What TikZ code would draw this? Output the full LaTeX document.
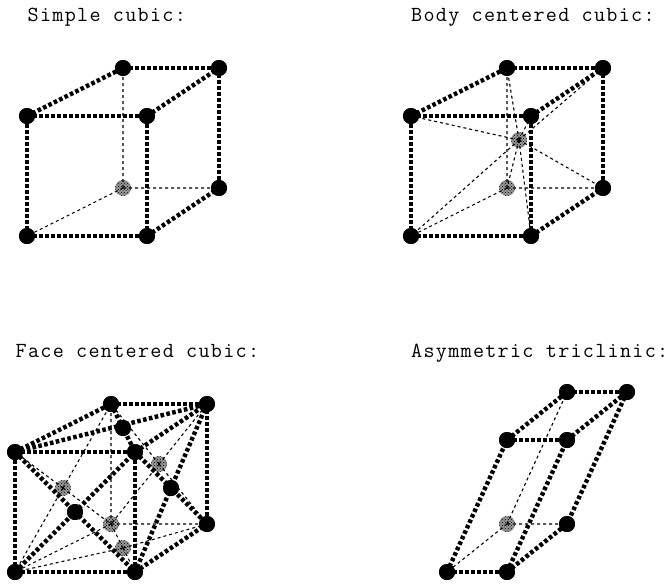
\documentclass[tikz,border=0pt]{standalone}
\usepackage{fontspec}
\setmonofont[LetterSpace=6]{Latin Modern Mono}
\usetikzlibrary{patterns}
\tikzset{
  atom/.style={circle,fill=black,draw=none,minimum size=16pt,inner sep=0pt},
  hidden/.style={circle,draw=none,minimum size=16pt,inner sep=0pt,preaction={fill=gray!80},pattern=crosshatch dots,pattern color=black},
  edgeline/.style={line width=4.4pt,dash pattern=on 3.6pt off 2.4pt},
  backline/.style={line width=1.1pt,dash pattern=on 3pt off 3pt},
  title/.style={anchor=base west,inner sep=0pt,font=\ttfamily\fontsize{21.5}{21.5}\selectfont}
}
\begin{document}
\begin{tikzpicture}[x=1pt,y=-1pt]
\useasboundingbox (0,0) rectangle (672,584);
\node[title] (t1) at (27.5,21.5) {Simple cubic:};
\node[title] (t2) at (411,21.5) {Body centered cubic:};
\node[title] (t3) at (15.5,357.5) {Face centered cubic:};
\node[title] (t4) at (411,357.5) {Asymmetric triclinic:};

% Simple cubic
\node[hidden] (sG) at (123,188) {};
\foreach \n/\x/\y in {sA/27/236,sB/147/236,sC/27/116,sD/147/116,sE/123/68,sF/219/68,sH/219/188}
  \node[atom] (\n) at (\x,\y) {};
\draw[backline] (sG.center)--(sA.center) (sG.center)--(sH.center) (sG.center)--(sE.center);
\draw[edgeline] (sA.center)--(sB.center);
\draw[edgeline] (sA.center)--(sC.center);
\draw[edgeline] (sB.center)--(sD.center);
\draw[edgeline] (sC.center)--(sD.center);
\draw[edgeline] (sC.center)--(sE.center);
\draw[edgeline] (sD.center)--(sF.center);
\draw[edgeline] (sE.center)--(sF.center);
\draw[edgeline] (sF.center)--(sH.center);
\draw[edgeline] (sB.center)--(sH.center);
\foreach \x/\y in {27/236,147/236,27/116,147/116,123/68,219/68,219/188}
  \node[atom] at (\x,\y) {};

% Body centered
\node[hidden] (bG) at (507,188) {};
\node[hidden] (bM) at (519,140) {};
\foreach \n/\x/\y in {bA/411/236,bB/531/236,bC/411/116,bD/531/116,bE/507/68,bF/603/68,bH/603/188}
  \node[atom] (\n) at (\x,\y) {};
\draw[backline] (bG.center)--(bA.center) (bG.center)--(bH.center) (bG.center)--(bE.center);
\foreach \n in {bA,bB,bC,bD,bE,bF,bH,bG}
  \draw[backline] (bM.center)--(\n.center);
\draw[edgeline] (bA.center)--(bB.center);
\draw[edgeline] (bA.center)--(bC.center);
\draw[edgeline] (bB.center)--(bD.center);
\draw[edgeline] (bC.center)--(bD.center);
\draw[edgeline] (bC.center)--(bE.center);
\draw[edgeline] (bD.center)--(bF.center);
\draw[edgeline] (bE.center)--(bF.center);
\draw[edgeline] (bF.center)--(bH.center);
\draw[edgeline] (bB.center)--(bH.center);
\foreach \x/\y in {411/236,531/236,411/116,531/116,507/68,603/68,603/188}
  \node[atom] at (\x,\y) {};

% Face centered
\foreach \n/\x/\y in {fG/111/524,fL/63/488,fU/123/548,fK/159/464}
  \node[hidden] (\n) at (\x,\y) {};
\foreach \n/\x/\y in {fA/15/572,fB/135/572,fC/15/452,fD/135/452,fE/111/404,fF/207/404,fH/207/524,fT/123/428,fR/171/488,fN/75/512}
  \node[atom] (\n) at (\x,\y) {};
\draw[backline] (fG.center)--(fA.center) (fG.center)--(fH.center) (fG.center)--(fE.center);
\draw[backline] (fL.center)--(fE.center) (fL.center)--(fA.center) (fL.center)--(fC.center) (fL.center)--(fG.center);
\draw[backline] (fU.center)--(fA.center) (fU.center)--(fB.center) (fU.center)--(fG.center) (fU.center)--(fH.center);
\draw[backline] (fK.center)--(fE.center) (fK.center)--(fF.center) (fK.center)--(fG.center) (fK.center)--(fH.center);
\draw[edgeline] (fA.center)--(fB.center);
\draw[edgeline] (fA.center)--(fC.center);
\draw[edgeline] (fB.center)--(fD.center);
\draw[edgeline] (fC.center)--(fD.center);
\draw[edgeline] (fC.center)--(fE.center);
\draw[edgeline] (fD.center)--(fF.center);
\draw[edgeline] (fE.center)--(fF.center);
\draw[edgeline] (fF.center)--(fH.center);
\draw[edgeline] (fB.center)--(fH.center);
\draw[edgeline] (fC.center)--(fF.center);
\draw[edgeline] (fE.center)--(fD.center);
\draw[edgeline] (fC.center)--(fB.center);
\draw[edgeline] (fA.center)--(fD.center);
\draw[edgeline] (fD.center)--(fH.center);
\draw[edgeline] (fF.center)--(fB.center);
\foreach \x/\y in {15/572,135/572,15/452,135/452,111/404,207/404,207/524,123/428,171/488,75/512}
  \node[atom] at (\x,\y) {};

% Triclinic
\node[hidden] (tG) at (507,524) {};
\foreach \n/\x/\y in {tA/447/572,tB/507/572,tC/507/440,tD/567/440,tE/567/392,tF/627/392,tH/567/524}
  \node[atom] (\n) at (\x,\y) {};
\draw[backline] (tG.center)--(tA.center) (tG.center)--(tH.center) (tG.center)--(tE.center);
\draw[edgeline] (tA.center)--(tB.center);
\draw[edgeline] (tA.center)--(tC.center);
\draw[edgeline] (tB.center)--(tD.center);
\draw[edgeline] (tC.center)--(tD.center);
\draw[edgeline] (tC.center)--(tE.center);
\draw[edgeline] (tD.center)--(tF.center);
\draw[edgeline] (tE.center)--(tF.center);
\draw[edgeline] (tF.center)--(tH.center);
\draw[edgeline] (tB.center)--(tH.center);
\foreach \x/\y in {447/572,507/572,507/440,567/440,567/392,627/392,567/524}
  \node[atom] at (\x,\y) {};
\end{tikzpicture}
\end{document}
